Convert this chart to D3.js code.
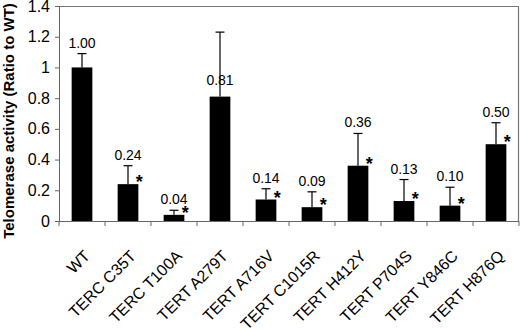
<!DOCTYPE html>
<html>
<head>
<meta charset="utf-8">
<script src="https://cdn.jsdelivr.net/npm/d3@7"></script>
<style>
  body { margin: 0; background: #fff; }
  text { font-family: Arial, "Liberation Sans", sans-serif; fill: #000; }
</style>
</head>
<body>
<svg id="chart" width="520" height="330"></svg>
<script>
// data
let categories = ["WT", "TERC C35T", "TERC T100A", "TERT A279T", "TERT A716V",
                  "TERT C1015R", "TERT H412Y", "TERT P704S", "TERT Y846C", "TERT H876Q"];
let activity = [1.00, 0.24, 0.04, 0.81, 0.14, 0.09, 0.36, 0.13, 0.10, 0.50];
let errorUp  = [0.09, 0.12, 0.03, 0.42, 0.07, 0.10, 0.21, 0.14, 0.12, 0.14];
let significant = [false, true, true, false, true, true, true, true, true, true];
let yTicks = [0, 0.2, 0.4, 0.6, 0.8, 1, 1.2, 1.4];

let rows = categories.map(function(c, i) {
  return { name: c, value: activity[i], err: errorUp[i], star: significant[i] };
});

let plotLeft = 59, plotRight = 519, plotTop = 6, plotBottom = 221;

let svg = d3.select("#chart");

// inner padding plus half of it outside keeps one category per tick interval
let xScale = d3.scaleBand().domain(categories).range([plotLeft, plotRight])
  .paddingInner(0.55).paddingOuter(0.275);
let yScale = d3.scaleLinear().domain([0, 1.4]).range([plotBottom, plotTop]);

function center(d) { return xScale(d) + xScale.bandwidth() / 2; }

// frame (top and right edges of the plot area)
svg.append("path")
  .attr("d", `M ${plotLeft} ${plotTop + 0.5} H ${plotRight - 0.5} V ${plotBottom}`)
  .attr("fill", "none")
  .attr("stroke", "#777")
  .attr("stroke-width", 1.2);

// y axis
let yAxis = svg.append("g")
  .attr("transform", `translate(${plotLeft},0)`)
  .call(d3.axisLeft(yScale).tickValues(yTicks).tickSize(4).tickPadding(5)
          .tickFormat(d3.format("")));
yAxis.select(".domain").attr("stroke", "#666");
yAxis.selectAll(".tick line").attr("stroke", "#666");
yAxis.selectAll("text").style("font-size", "16px").attr("fill", "#000");

// x axis: ticks sit between the categories
let bandStep = xScale.step();
let xAxis = svg.append("g");
xAxis.append("line")
  .attr("x1", plotLeft).attr("x2", plotRight)
  .attr("y1", plotBottom + 0.5).attr("y2", plotBottom + 0.5)
  .attr("stroke", "#666");
xAxis.selectAll(".xtick")
  .data(d3.range(categories.length + 1))
  .enter().append("line")
  .attr("x1", function(i) { return plotLeft + i * bandStep; })
  .attr("x2", function(i) { return plotLeft + i * bandStep; })
  .attr("y1", plotBottom).attr("y2", plotBottom + 5)
  .attr("stroke", "#666");

xAxis.selectAll(".xlabel")
  .data(categories)
  .enter().append("text")
  .attr("text-anchor", "end")
  .style("font-size", "16px")
  .attr("transform", function(d) {
    return "translate(" + (center(d) + 9) + "," + (plotBottom + 36) + ") rotate(-45)";
  })
  .text(function(d) { return d; });

// error bars (upper only), drawn behind the bars
let err = svg.append("g").attr("stroke", "#000").attr("stroke-width", 1.2);
err.selectAll(".stem")
  .data(rows).enter().append("line")
  .attr("x1", function(d) { return center(d.name); })
  .attr("x2", function(d) { return center(d.name); })
  .attr("y1", function(d) { return yScale(d.value); })
  .attr("y2", function(d) { return yScale(d.value + d.err); });
err.selectAll(".cap")
  .data(rows).enter().append("line")
  .attr("x1", function(d) { return center(d.name) - 4.5; })
  .attr("x2", function(d) { return center(d.name) + 4.5; })
  .attr("y1", function(d) { return yScale(d.value + d.err); })
  .attr("y2", function(d) { return yScale(d.value + d.err); });

// bars
svg.selectAll(".bar")
  .data(rows).enter().append("rect")
  .attr("x", function(d) { return xScale(d.name); })
  .attr("y", function(d) { return yScale(d.value); })
  .attr("width", xScale.bandwidth())
  .attr("height", function(d) { return plotBottom - yScale(d.value); })
  .attr("fill", "#000");

// value labels: above the error bar, or just above the bar when the error bar is tall
svg.selectAll(".value")
  .data(rows).enter().append("text")
  .attr("text-anchor", "middle")
  .style("font-size", "14px")
  .attr("x", function(d) { return center(d.name); })
  .attr("y", function(d) {
    if (d.err > 0.3) return yScale(d.value) - 12;
    return yScale(d.value + d.err) - 6;
  })
  .text(function(d) { return d3.format(".2f")(d.value); });

// significance stars
svg.selectAll(".star")
  .data(rows.filter(function(d) { return d.star; }))
  .enter().append("text")
  .attr("text-anchor", "middle")
  .style("font-size", "18px")
  .style("font-weight", "bold")
  .attr("x", function(d) { return xScale(d.name) + xScale.bandwidth() + 1; })
  .attr("y", function(d) { return yScale(d.value) + 4; })
  .text("*");

// y axis title
svg.append("text")
  .attr("text-anchor", "middle")
  .style("font-size", "15px")
  .style("font-weight", "bold")
  .attr("transform", "translate(14,121) rotate(-90)")
  .text("Telomerase activity (Ratio to WT)");
</script>
</body>
</html>
